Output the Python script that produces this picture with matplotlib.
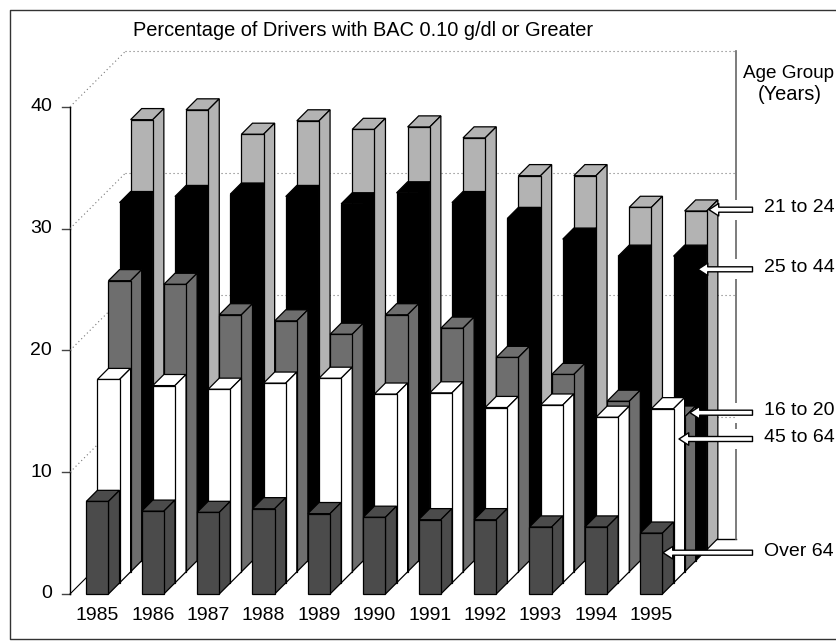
#!/usr/bin/env python3
"""Oblique 3D stacked-depth bar chart of drivers with BAC 0.10 g/dl or greater."""
import matplotlib
matplotlib.use("Agg")
import matplotlib.pyplot as plt
from matplotlib.patches import FancyArrowPatch, Polygon, Rectangle
from matplotlib.transforms import Affine2D

plt.rcParams["font.family"] = ["Liberation Sans", "DejaVu Sans"]

years = [1985, 1986, 1987, 1988, 1989, 1990, 1991, 1992, 1993, 1994, 1995]
y_ticks = [0, 10, 20, 30, 40]

# front to back
over_64 = [7.6, 6.8, 6.7, 7.0, 6.6, 6.3, 6.1, 6.1, 5.5, 5.5, 5.0]
age_45_64 = [16.7, 16.2, 15.9, 16.4, 16.8, 15.5, 15.6, 14.4, 14.6, 13.6, 14.3]
age_16_20 = [23.9, 23.6, 21.1, 20.6, 19.5, 21.1, 20.0, 17.6, 16.2, 14.0, 12.7]
age_25_44 = [29.4, 29.9, 30.1, 29.9, 29.3, 30.2, 29.4, 28.1, 26.4, 25.0, 25.0]
age_21_24 = [35.3, 36.1, 34.1, 35.2, 34.5, 34.7, 33.8, 30.7, 30.7, 28.1, 27.8]

series = [over_64, age_45_64, age_16_20, age_25_44, age_21_24]
colors = ["#4b4b4b", "#ffffff", "#6e6e6e", "#000000", "#b3b3b3"]

W, H = 836, 641
X0, PITCH = 86.3, 55.4       # pixels: first bar, year spacing
Y0, UNIT = 594.0, 12.18      # pixels: zero line, one percent
BAR_W = 0.4                  # in year units
DX, DY = 0.2, 0.911          # depth of one series, in data units
N = len(series)

fig = plt.figure(figsize=(W / 100, H / 100), dpi=100)
ax = fig.add_axes([0, 0, 1, 1])
ax.set_xlim(-X0 / PITCH, (W - X0) / PITCH)
ax.set_ylim((Y0 - H) / UNIT, Y0 / UNIT)
ax.axis("off")

# layout in image pixels, y pointing down
px = Affine2D().scale(1, -1).translate(0, H)

axis_x = (70 - X0) / PITCH
wall_x = (736.5 - X0) / PITCH
back_x = axis_x + N * DX
back_y = N * DY
dot = (0, (1, 2.6))

# walls and gridlines
for v in y_ticks:
    ax.plot([axis_x - 8 / PITCH, axis_x], [v, v], color="#444444", lw=1, zorder=1)
    if v > 0:
        ax.plot([axis_x, back_x], [v, v + back_y], color="#777777", lw=0.8, ls=dot, zorder=3)
        ax.plot([back_x, wall_x], [v + back_y, v + back_y], color="#777777", lw=0.8, ls=dot, zorder=3)
ax.plot([axis_x, axis_x], [0, y_ticks[-1]], color="black", lw=1, zorder=1)
ax.plot([axis_x, back_x], [0, back_y], color="black", lw=0.8, zorder=1)
ax.plot([back_x, wall_x], [back_y, back_y], color="black", lw=1, zorder=1)
ax.plot([wall_x, wall_x], [back_y, y_ticks[-1] + back_y], color="#666666", lw=1.2, zorder=1)

# bars, back series first so the front ones cover them
z = 4
for k in range(N - 1, -1, -1):
    for i, v in enumerate(series[k]):
        x0 = i + k * DX
        x1 = x0 + BAR_W
        b = k * DY
        t = b + v
        faces = [
            [(x0, t), (x1, t), (x1 + DX, t + DY), (x0 + DX, t + DY)],      # top
            [(x1, b), (x1 + DX, b + DY), (x1 + DX, t + DY), (x1, t)],      # side
            [(x0, b), (x1, b), (x1, t), (x0, t)],                          # front
        ]
        for pts in faces:
            ax.add_patch(Polygon(pts, closed=True, facecolor=colors[k],
                                 edgecolor="black", lw=0.9, joinstyle="miter", zorder=z))
    z += 1

# year labels under the front bars
for i, yr in enumerate(years):
    ax.text(i + BAR_W / 2, (Y0 - 616) / UNIT, str(yr), fontsize=14,
            ha="center", va="center", zorder=20)
for v in y_ticks:
    ax.text(axis_x - 18 / PITCH, v, str(v), fontsize=14, ha="right", va="center", zorder=20)

ax.text(133, 30, "Percentage of Drivers with BAC 0.10 g/dl or Greater", transform=px,
        fontsize=14.4, ha="left", va="center")
ax.text(743, 73, "Age Group", transform=px, fontsize=13.6, ha="left", va="center")
ax.text(790, 95, "(Years)", transform=px, fontsize=14.4, ha="center", va="center")

# callouts: label, text y, arrow y, arrow tip x
callouts = [
    ("21 to 24", 207, 209.7, 709),
    ("25 to 44", 267, 269.3, 698),
    ("16 to 20", 410.7, 412.7, 690),
    ("45 to 64", 437.7, 439, 679),
    ("Over 64", 552, 552.7, 663),
]
for label, ty, ay, tip in callouts:
    ax.add_patch(Rectangle((730, ay - 10), 12, 20, transform=px, facecolor="white",
                           edgecolor="none", zorder=2))
    ax.text(764, ty, label, transform=px, fontsize=14, ha="left", va="center", zorder=20)
    ax.add_patch(FancyArrowPatch((752.5, ay), (tip, ay), transform=px, shrinkA=0, shrinkB=0,
                                 arrowstyle="simple,head_length=7,head_width=9,tail_width=3.6",
                                 mutation_scale=1, facecolor="white", edgecolor="black",
                                 lw=1, zorder=15))

# frame, open on the right where the page was cropped
ax.plot([W + 5, 10, 10, W + 5], [10, 10, 639, 639], transform=px, color="#333333", lw=1, zorder=20)

fig.savefig("out.png", dpi=100)
